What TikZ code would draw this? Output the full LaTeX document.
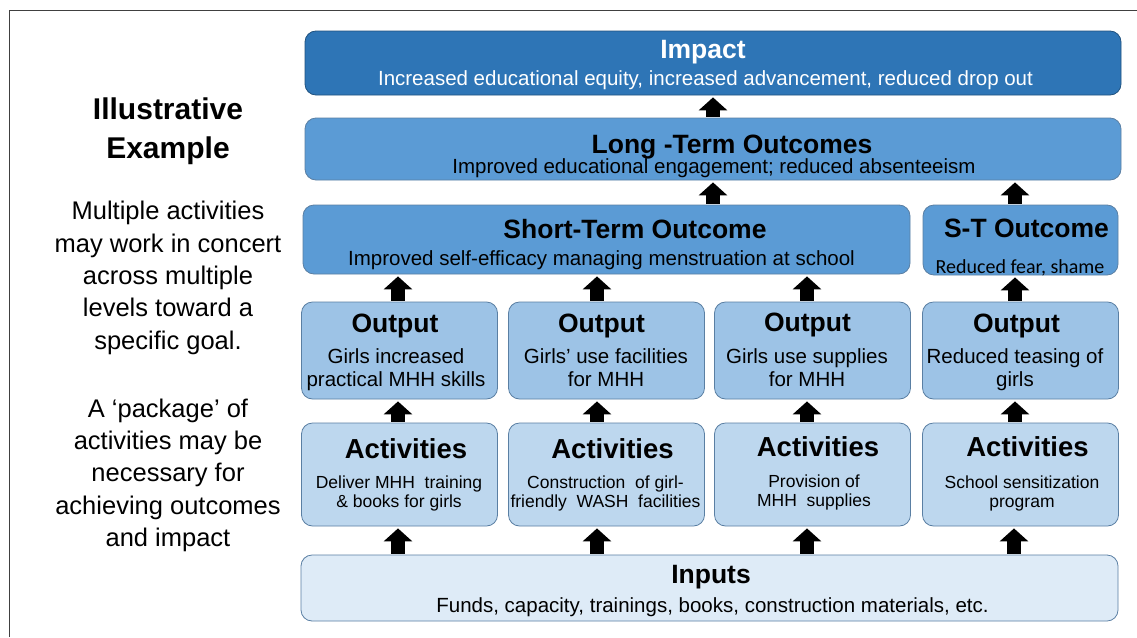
\documentclass[tikz,border=0pt]{standalone}
\usepackage{fontspec}
\setmainfont{Liberation Sans}
\newfontfamily\calfont{Carlito}
\usetikzlibrary{arrows.meta}
\definecolor{cImpact}{HTML}{2E75B6}
\definecolor{cMid}{HTML}{5B9BD5}
\definecolor{cOut}{HTML}{9DC3E6}
\definecolor{cAct}{HTML}{BDD7EE}
\definecolor{cInp}{HTML}{DEEBF7}
\definecolor{cBorder}{HTML}{5A7FA3}
\definecolor{cFrame}{HTML}{404040}
\tikzset{
  box/.style={draw=cBorder, line width=0.8pt, rounded corners=11pt, inner sep=0pt},
  ttl/.style={anchor=base, inner sep=0pt, font=\fontsize{26.5}{30}\selectfont\bfseries},
  sub/.style={anchor=base, inner sep=0pt, align=center, font=\fontsize{20.5}{23}\selectfont},
  act/.style={anchor=base, inner sep=0pt, align=center, font=\fontsize{17.5}{19.5}\selectfont},
  side/.style={anchor=base, inner sep=0pt, align=center, font=\fontsize{25.5}{32.3}\selectfont},
  up/.style={line width=14pt, -{Triangle[width=28pt,length=13pt]}, shorten >=2pt, shorten <=1pt},
}
\begin{document}
\begin{tikzpicture}[x=1pt,y=-1pt]
\useasboundingbox (0,0) rectangle (1137,637);
\fill[white] (0,0) rectangle (1137,637);
% frame
\draw[cFrame, line width=1.5pt] (9.5,637) -- (9.5,10.5) -- (1137,10.5);

% left text (base anchor = baseline of last line)
\node[side, font=\fontsize{30}{38.3}\selectfont\bfseries] (ill) at (168,158) {Illustrative\\Example};
\node[side] (p1) at (168,349) {Multiple activities\\may work in concert\\across multiple\\levels toward a\\specific goal.};
\node[side] (p2) at (168,546.5) {A ‘package’ of\\activities may be\\necessary for\\achieving outcomes\\and impact};

% boxes
\node[box, fill=cImpact, draw=cImpact!70!black, minimum width=816pt, minimum height=64pt] (impact) at (713,63) {};
\node[box, fill=cMid, minimum width=816pt, minimum height=62pt] (lt) at (713,149) {};
\node[box, fill=cMid, minimum width=607pt, minimum height=69pt] (st) at (606.5,239.5) {};
\node[box, fill=cMid, minimum width=195pt, minimum height=70pt] (sto) at (1020.5,240) {};

\node[box, fill=cOut, minimum width=196pt, minimum height=97pt] (o1) at (399.5,350.5) {};
\node[box, fill=cOut, minimum width=196pt, minimum height=97pt] (o2) at (606.5,350.5) {};
\node[box, fill=cOut, minimum width=196pt, minimum height=97pt] (o3) at (812.5,350.5) {};
\node[box, fill=cOut, minimum width=196pt, minimum height=97pt] (o4) at (1020.5,350.5) {};

\node[box, fill=cAct, minimum width=196pt, minimum height=103pt] (a1) at (399.5,474.5) {};
\node[box, fill=cAct, minimum width=196pt, minimum height=103pt] (a2) at (606.5,474.5) {};
\node[box, fill=cAct, minimum width=196pt, minimum height=103pt] (a3) at (812.5,474.5) {};
\node[box, fill=cAct, minimum width=196pt, minimum height=103pt] (a4) at (1020.5,474.5) {};

\node[box, fill=cInp, minimum width=817pt, minimum height=66pt] (inp) at (709.5,588) {};

% texts
\node[ttl, text=white] (impT) at (703,58) {Impact};
\node[sub, text=white] (impS) at (705.5,85) {Increased educational equity, increased advancement, reduced drop out};
\node[ttl] (ltT) at (732,153) {Long -Term Outcomes};
\node[sub] (ltS) at (714,173) {Improved educational engagement; reduced absenteeism};
\node[ttl] (stT) at (635,238) {Short-Term Outcome};
\node[sub] (stS) at (601.5,265) {Improved self-efficacy managing menstruation at school};
\node[ttl] (stoT) at (1026.5,237) {S-T Outcome};
\node[anchor=base, inner sep=0pt, font=\calfont\fontsize{20}{23}\selectfont] (stoS) at (1020,273) {Reduced fear, shame};

\node[ttl] (o1T) at (395,332) {Output};
\node[sub] (o1S) at (396,386) {Girls increased\\practical MHH skills};
\node[ttl] (o2T) at (601.5,332) {Output};
\node[sub] (o2S) at (606,386) {Girls’ use facilities\\for MHH};
\node[ttl] (o3T) at (807.5,331) {Output};
\node[sub] (o3S) at (807,386) {Girls use supplies\\for MHH};
\node[ttl] (o4T) at (1016.5,332) {Output};
\node[sub] (o4S) at (1015,386) {Reduced teasing of\\girls};

\node[ttl, font=\fontsize{27.5}{30}\selectfont\bfseries] (a1T) at (406,458) {Activities};
\node[act] (a1S) at (399,507.5) {Deliver MHH\ \ training\\\& books for girls};
\node[ttl, font=\fontsize{27.5}{30}\selectfont\bfseries] (a2T) at (612.5,458) {Activities};
\node[act] (a2S) at (605.5,507.5) {Construction\ \ of girl-\\friendly\ \ WASH\ \ facilities};
\node[ttl, font=\fontsize{27.5}{30}\selectfont\bfseries] (a3T) at (818,456) {Activities};
\node[act] (a3S) at (814,506.5) {Provision of\\MHH\ \ supplies};
\node[ttl, font=\fontsize{27.5}{30}\selectfont\bfseries] (a4T) at (1027.5,456) {Activities};
\node[act] (a4S) at (1022,507.5) {School sensitization\\program};

\node[ttl] (inT) at (711,583) {Inputs};
\node[sub] (inS) at (712.5,612) {Funds, capacity, trainings, books, construction materials, etc.};

% arrows
\draw[up] (lt.north) -- (impact.south);
\draw[up] (st.north -| lt.north) -- (lt.south);
\draw[up] ([xshift=-5.5pt]sto.north) -- ([xshift=-5.5pt]sto.north |- lt.south);

\draw[up] ([xshift=-1.5pt]o1.north) -- ([xshift=-1.5pt]o1.north |- st.south);
\draw[up] ([xshift=-9.5pt]o2.north) -- ([xshift=-9.5pt]o2.north |- st.south);
\draw[up] ([xshift=-5.5pt]o3.north) -- ([xshift=-5.5pt]o3.north |- st.south);
\draw[up] ([xshift=-5.5pt]o4.north) -- ([xshift=-5.5pt]sto.south);

\draw[up] ([xshift=-1.5pt]a1.north) -- ([xshift=-1.5pt]o1.south);
\draw[up] ([xshift=-9.5pt]a2.north) -- ([xshift=-9.5pt]o2.south);
\draw[up] ([xshift=-5.5pt]a3.north) -- ([xshift=-5.5pt]o3.south);
\draw[up] ([xshift=-5.5pt]a4.north) -- ([xshift=-5.5pt]o4.south);

\draw[up] ([xshift=-1.5pt]a1.south |- inp.north) -- ([xshift=-1.5pt]a1.south);
\draw[up] ([xshift=-9.5pt]a2.south |- inp.north) -- ([xshift=-9.5pt]a2.south);
\draw[up] ([xshift=-5.5pt]a3.south |- inp.north) -- ([xshift=-5.5pt]a3.south);
\draw[up] ([xshift=-6.5pt]a4.south |- inp.north) -- ([xshift=-6.5pt]a4.south);
\end{tikzpicture}
\end{document}
